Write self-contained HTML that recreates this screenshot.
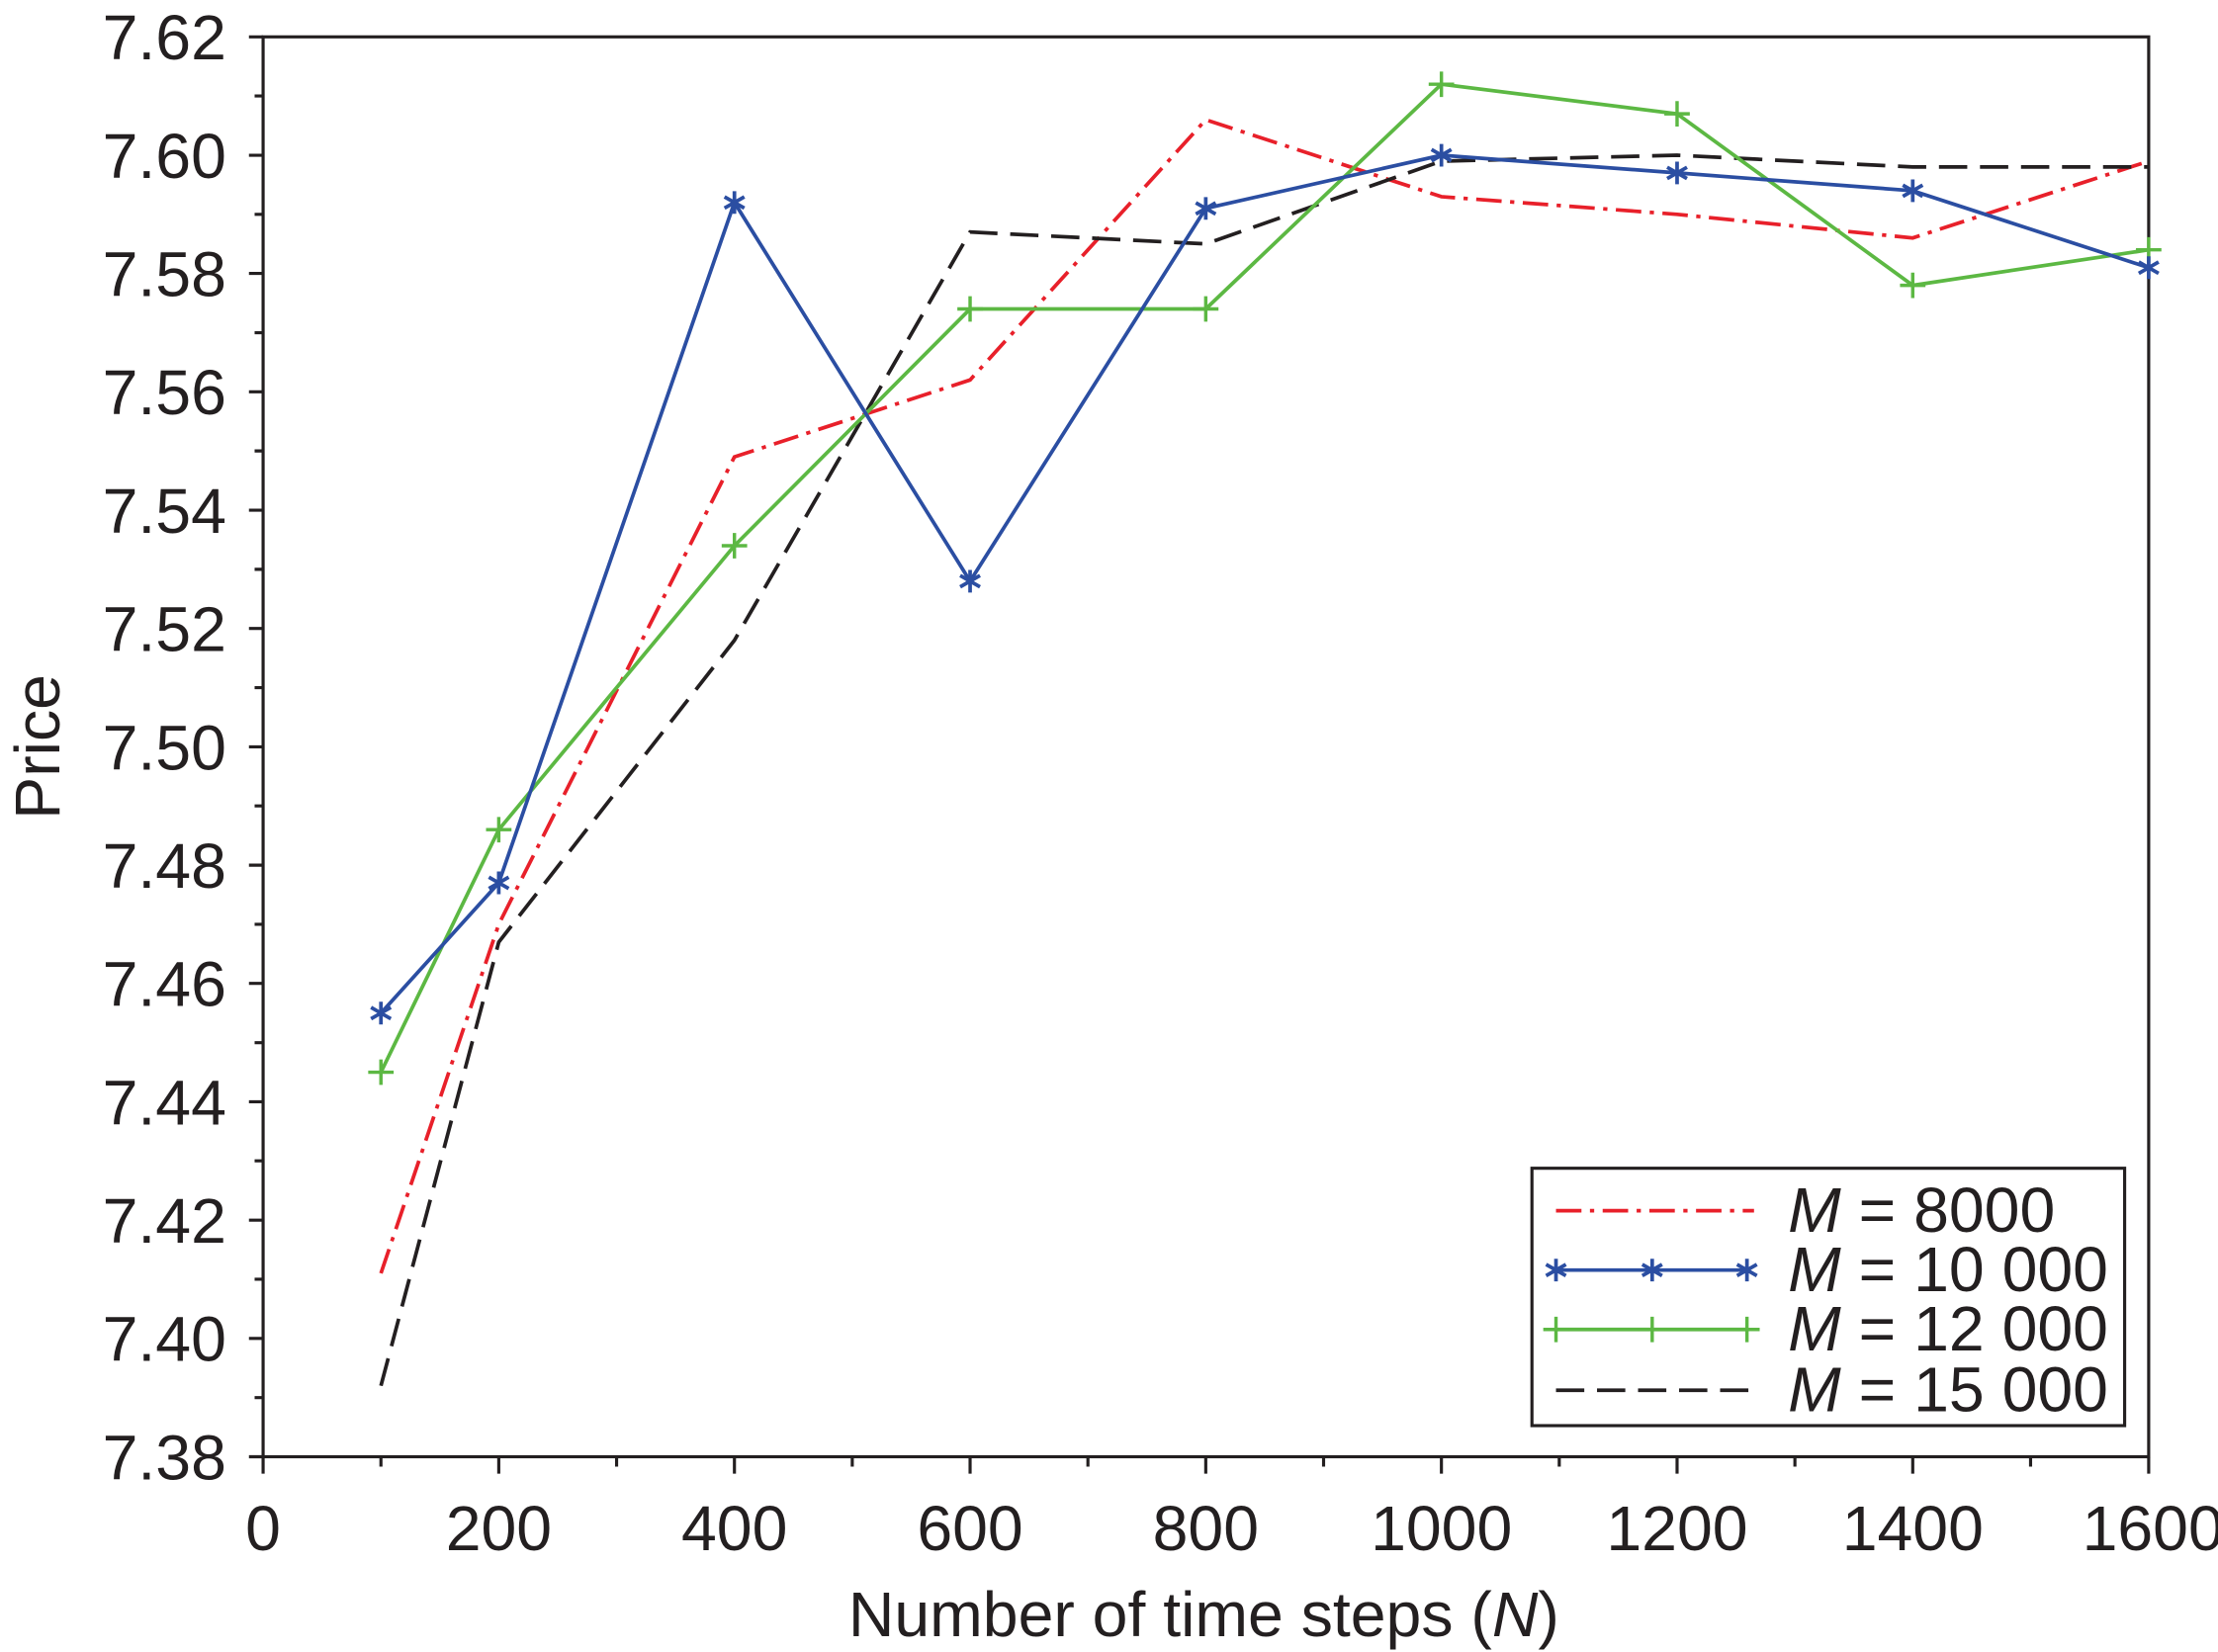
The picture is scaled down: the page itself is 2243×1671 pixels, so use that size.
<!DOCTYPE html>
<html><head><style>html,body{margin:0;padding:0;background:#fff;}svg{display:block}</style></head>
<body>
<svg width="2243" height="1671" viewBox="0 0 1568 1168" xmlns="http://www.w3.org/2000/svg" font-family="Liberation Sans, sans-serif">
<defs>
<marker id="ast" markerUnits="userSpaceOnUse" markerWidth="20" markerHeight="20" refX="10" refY="10" overflow="visible">
<path d="M10 2V18M3 6L17 14M3 14L17 6" stroke="#2b4ea2" stroke-width="2.6" fill="none"/>
</marker>
<marker id="pls" markerUnits="userSpaceOnUse" markerWidth="20" markerHeight="20" refX="10" refY="10" overflow="visible">
<path d="M10 1V19M1 10H19" stroke="#5cb843" stroke-width="2.4" fill="none"/>
</marker>
</defs>
<rect width="1568" height="1168" fill="#fff"/>
<rect x="186" y="26" width="1333" height="1004" fill="none" stroke="#231f20" stroke-width="2.2"/>
<g stroke="#231f20" stroke-width="2.2">
<path d="M176 26H186M176 109.7H186M176 193.3H186M176 277H186M176 360.7H186M176 444.3H186M176 528H186M176 611.7H186M176 695.3H186M176 779H186M176 862.7H186M176 946.3H186M176 1030H186"/>
<path d="M180 67.8H186M180 151.5H186M180 235.2H186M180 318.8H186M180 402.5H186M180 486.2H186M180 569.8H186M180 653.5H186M180 737.2H186M180 820.8H186M180 904.5H186M180 988.2H186"/>
<path d="M186 1030V1042M352.6 1030V1042M519.2 1030V1042M685.8 1030V1042M852.4 1030V1042M1019 1030V1042M1185.6 1030V1042M1352.2 1030V1042M1519 1030V1042"/>
<path d="M269.3 1030V1037M435.9 1030V1037M602.5 1030V1037M769.1 1030V1037M935.7 1030V1037M1102.3 1030V1037M1268.9 1030V1037M1435.5 1030V1037"/>
</g>
<g font-size="45" fill="#231f20" text-anchor="end">
<text x="160" y="42">7.62</text><text x="160" y="125.7">7.60</text><text x="160" y="209.3">7.58</text><text x="160" y="293">7.56</text><text x="160" y="376.7">7.54</text><text x="160" y="460.3">7.52</text><text x="160" y="544">7.50</text><text x="160" y="627.7">7.48</text><text x="160" y="711.3">7.46</text><text x="160" y="795">7.44</text><text x="160" y="878.7">7.42</text><text x="160" y="962.3">7.40</text><text x="160" y="1046">7.38</text>
</g>
<g font-size="45" fill="#231f20" text-anchor="middle">
<text x="186" y="1096">0</text><text x="352.6" y="1096">200</text><text x="519.2" y="1096">400</text><text x="685.8" y="1096">600</text><text x="852.4" y="1096">800</text><text x="1019" y="1096">1000</text><text x="1185.6" y="1096">1200</text><text x="1352.2" y="1096">1400</text><text x="1522" y="1096">1600</text>
<text x="851" y="1157">Number of time steps (<tspan font-style="italic">N</tspan>)</text>
<text transform="translate(42 528) rotate(-90)">Price</text>
</g>
<polyline fill="none" stroke="#e8202a" stroke-width="2.6" stroke-dasharray="18 6 3 6" points="269.3,900.3 352.6,653.5 519.2,323 685.8,268.6 852.4,84.6 1019,139 1185.6,151.5 1352.2,168.2 1519,113.9"/>
<polyline fill="none" stroke="#231f20" stroke-width="2.6" stroke-dasharray="20 9" points="269.3,979.8 352.6,666.1 519.2,452.7 685.8,164 852.4,172.4 1019,113.9 1185.6,109.7 1352.2,118 1519,118"/>
<polyline fill="none" stroke="#5cb843" stroke-width="2.6" marker-start="url(#pls)" marker-mid="url(#pls)" marker-end="url(#pls)" points="269.3,758.1 352.6,586.6 519.2,385.8 685.8,218.4 852.4,218.4 1019,59.5 1185.6,80.4 1352.2,201.7 1519,176.6"/>
<polyline fill="none" stroke="#2b4ea2" stroke-width="2.6" marker-start="url(#ast)" marker-mid="url(#ast)" marker-end="url(#ast)" points="269.3,716.3 352.6,624.2 519.2,143.1 685.8,410.9 852.4,147.3 1019,109.7 1185.6,122.2 1352.2,134.8 1519,189.2"/>
<rect x="1083" y="826" width="419" height="182" fill="#fff" stroke="#231f20" stroke-width="2.2"/>
<line x1="1100" y1="856" x2="1240" y2="856" stroke="#e8202a" stroke-width="2.6" stroke-dasharray="18 6 3 6"/>
<polyline points="1100,898 1168,898 1235,898" fill="none" stroke="#2b4ea2" stroke-width="2.6" marker-start="url(#ast)" marker-mid="url(#ast)" marker-end="url(#ast)"/>
<polyline points="1100,940 1168,940 1235,940" fill="none" stroke="#5cb843" stroke-width="2.6" marker-start="url(#pls)" marker-mid="url(#pls)" marker-end="url(#pls)"/>
<line x1="1100" y1="983" x2="1240" y2="983" stroke="#231f20" stroke-width="2.6" stroke-dasharray="20 9"/>
<g font-size="45" fill="#231f20">
<text x="1264" y="871"><tspan font-style="italic">M</tspan> = 8000</text>
<text x="1264" y="913"><tspan font-style="italic">M</tspan> = 10 000</text>
<text x="1264" y="955"><tspan font-style="italic">M</tspan> = 12 000</text>
<text x="1264" y="998"><tspan font-style="italic">M</tspan> = 15 000</text>
</g>
</svg>
</body></html>
